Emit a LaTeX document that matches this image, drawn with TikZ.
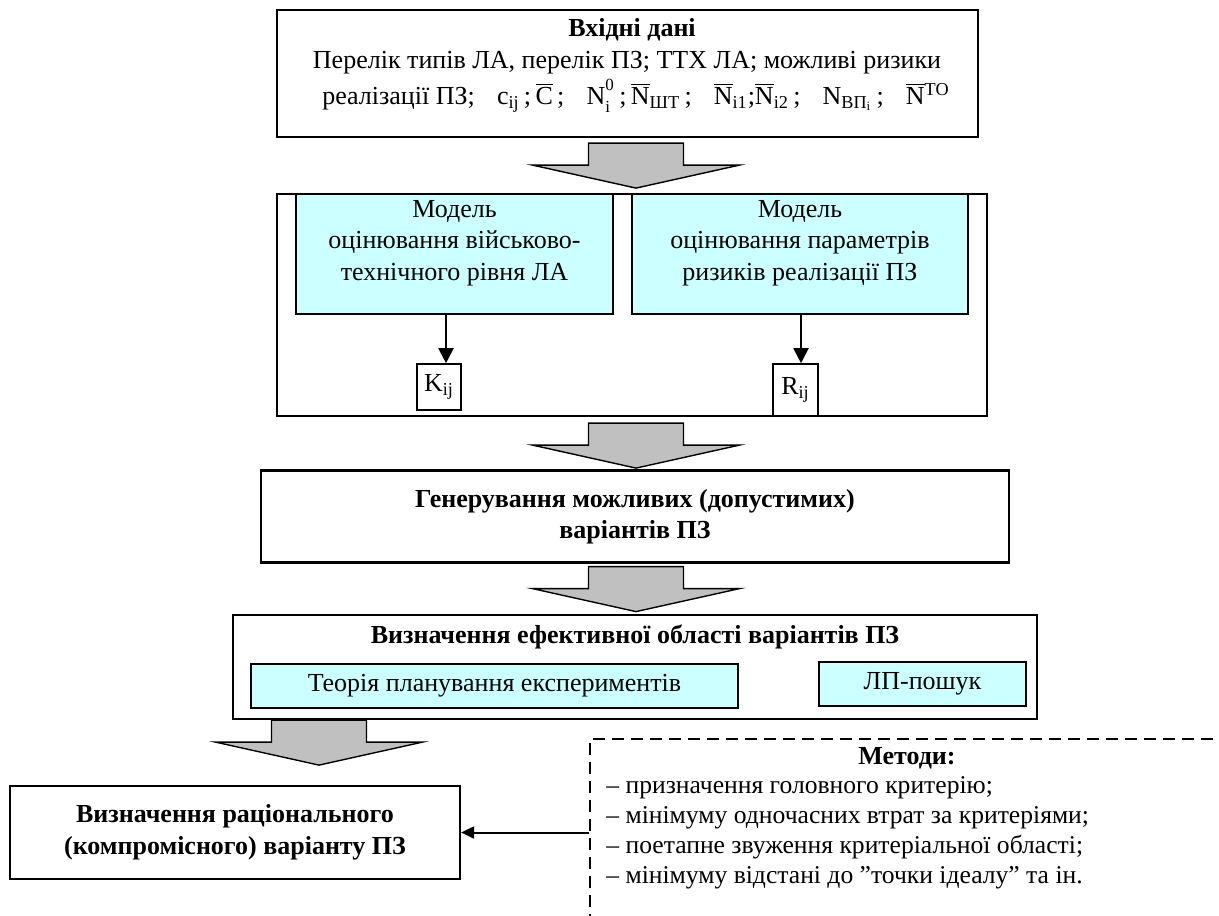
\documentclass[tikz,border=0pt]{standalone}
\usepackage{fontspec}
\setmainfont{Liberation Serif}
\usetikzlibrary{arrows.meta,calc}
\definecolor{cyanfill}{HTML}{CCFFFF}
\definecolor{grayfill}{HTML}{C0C0C0}
\newcommand\bfont{\fontsize{13}{15.75}\selectfont}
\newcommand\olN{$\overline{\hbox{N}}$}
\newcommand\olC{$\overline{\hbox{C}}$}
\newcommand\gap{\hspace{0.85em}}
\newcommand\smallidx{\fontsize{8.5}{8.5}\selectfont}
\tikzset{
 mainbox/.style={draw, line width=1.1pt, fill=white, inner sep=0pt, align=center},
 cyanbox/.style={draw, line width=0.7pt, fill=cyanfill, inner sep=0pt, align=center},
 smallbox/.style={draw, line width=0.8pt, fill=white, inner sep=0pt},
 dashbox/.style={draw, line width=0.8pt, dash pattern=on 6pt off 3.5pt, inner sep=0pt},
 txt/.style={inner sep=0pt, align=center},
 arr/.style={-{Triangle[length=7.5pt,width=7.5pt]}, line width=1pt},
 arrsmall/.style={-{Triangle[length=6.5pt,width=6pt]}, line width=1pt},
 garrow/.pic={\draw[line width=0.7pt, fill=grayfill, line join=miter] (-47.5,0) -- (-47.5,22) -- (-103.5,22) -- (0,45) -- (103.5,22) -- (47.5,22) -- (47.5,0) -- cycle;},
}
\begin{document}
\begin{tikzpicture}[x=0.5pt,y=-0.5pt, every node/.append style={font=\bfont}]
\useasboundingbox (0,0) rectangle (1219,915);
\fill[white] (0,0) rectangle (1219,915);

% input box
\node[mainbox, minimum width=350.5pt, minimum height=63.5pt] (inp) at (627.5,73.5) {};
\node[txt, font=\bfont\bfseries] (inptitle) at (632,30) {Вхідні дані};
\node[txt] (inpl2) at (627,63) {Перелік типів ЛА, перелік ПЗ; ТТХ ЛА; можливі ризики};
\node[txt] (inpl3) at (636,96) {реалізації ПЗ;\gap c\textsubscript{ij}\,;\,\olC\,;\gap N\rlap{\raisebox{1.15ex}{\smallidx 0}}\raisebox{-0.65ex}{\smallidx i}\kern2.5pt\,;\,\olN\textsubscript{ШТ}\,;\gap \olN\textsubscript{i1};\olN\textsubscript{i2}\,;\gap N\textsubscript{ВП\textsubscript{i}}\,;\gap \olN\textsuperscript{ТО}};

% models box
\node[mainbox, minimum width=355pt, minimum height=111pt] (mod) at (632,305) {};
\node[cyanbox, minimum width=158.5pt, minimum height=60pt] (cL) at (454.5,254) {};
\node[txt] (cLtxt) at ($(cL.center)+(0,-11)$) {Модель\\оцінювання військово-\\технічного рівня ЛА};
\node[cyanbox, minimum width=168pt, minimum height=60pt] (cR) at (800,254) {};
\node[txt] (cRtxt) at ($(cR.center)+(0,-11)$) {Модель\\оцінювання параметрів\\ризиків реалізації ПЗ};
\node[smallbox, minimum width=22pt, minimum height=23pt] (K) at (439,387) {K\textsubscript{ij}};
\node[smallbox, minimum width=22.5pt, minimum height=26pt] (R) at (795.5,390) {R\textsubscript{ij}};
\draw[arr] ($(cL.south -| K.north)+(7,0)$) -- ($(K.north)+(7,0)$);
\draw[arr] ($(cR.south -| R.north)+(5.5,0)$) -- ($(R.north)+(5.5,0)$);

% generation box
\node[mainbox, minimum width=374pt, minimum height=46pt, font=\bfont\bfseries] (gen) at (635,516.5) {Генерування можливих (допустимих)\\варіантів ПЗ};

% efficient region box
\node[mainbox, minimum width=402pt, minimum height=52pt] (eff) at (635,667) {};
\node[txt, font=\bfont\bfseries] (efftxt) at (635,637) {Визначення ефективної області варіантів ПЗ};
\node[cyanbox, minimum width=243.5pt, minimum height=22pt] (teo) at (494.5,686) {Теорія планування експериментів};
\node[cyanbox, minimum width=103.5pt, minimum height=22pt] (lp) at (922.5,684) {ЛП-пошук};

% rational box
\node[mainbox, minimum width=225pt, minimum height=46.5pt, font=\bfont\bfseries] (rat) at (235,832.5) {Визначення раціонального\\(компромісного) варіанту ПЗ};

% methods dashed box
\begin{scope}
\clip (0,0) rectangle (1219,915);
\node[dashbox, minimum width=330.5pt, minimum height=106.5pt, anchor=north west] (meth) at (589,738) {};
\end{scope}
\node[txt, font=\bfont\bfseries] (mtitle) at (907,758) {Методи:};
\node[inner sep=0pt, align=left, anchor=west, font=\fontsize{12.8}{15}\selectfont] (mitems) at (606,833) {– призначення головного критерію;\\– мінімуму одночасних втрат за критеріями;\\– поетапне звуження критеріальної області;\\– мінімуму відстані до "точки ідеалу" та ін.};
\coordinate (mleft) at (589,832.5);
\draw[arrsmall] (mleft) -- (rat.east);

% big gray arrows
\pic at ($(inp.south)+(8.5,5)$) {garrow};
\pic at ($(mod.south)+(4,6)$) {garrow};
\pic at ($(gen.south)+(1,3)$) {garrow};
\pic at ($(eff.south -| rat.north)+(84,0)$) {garrow};
\end{tikzpicture}
\end{document}
